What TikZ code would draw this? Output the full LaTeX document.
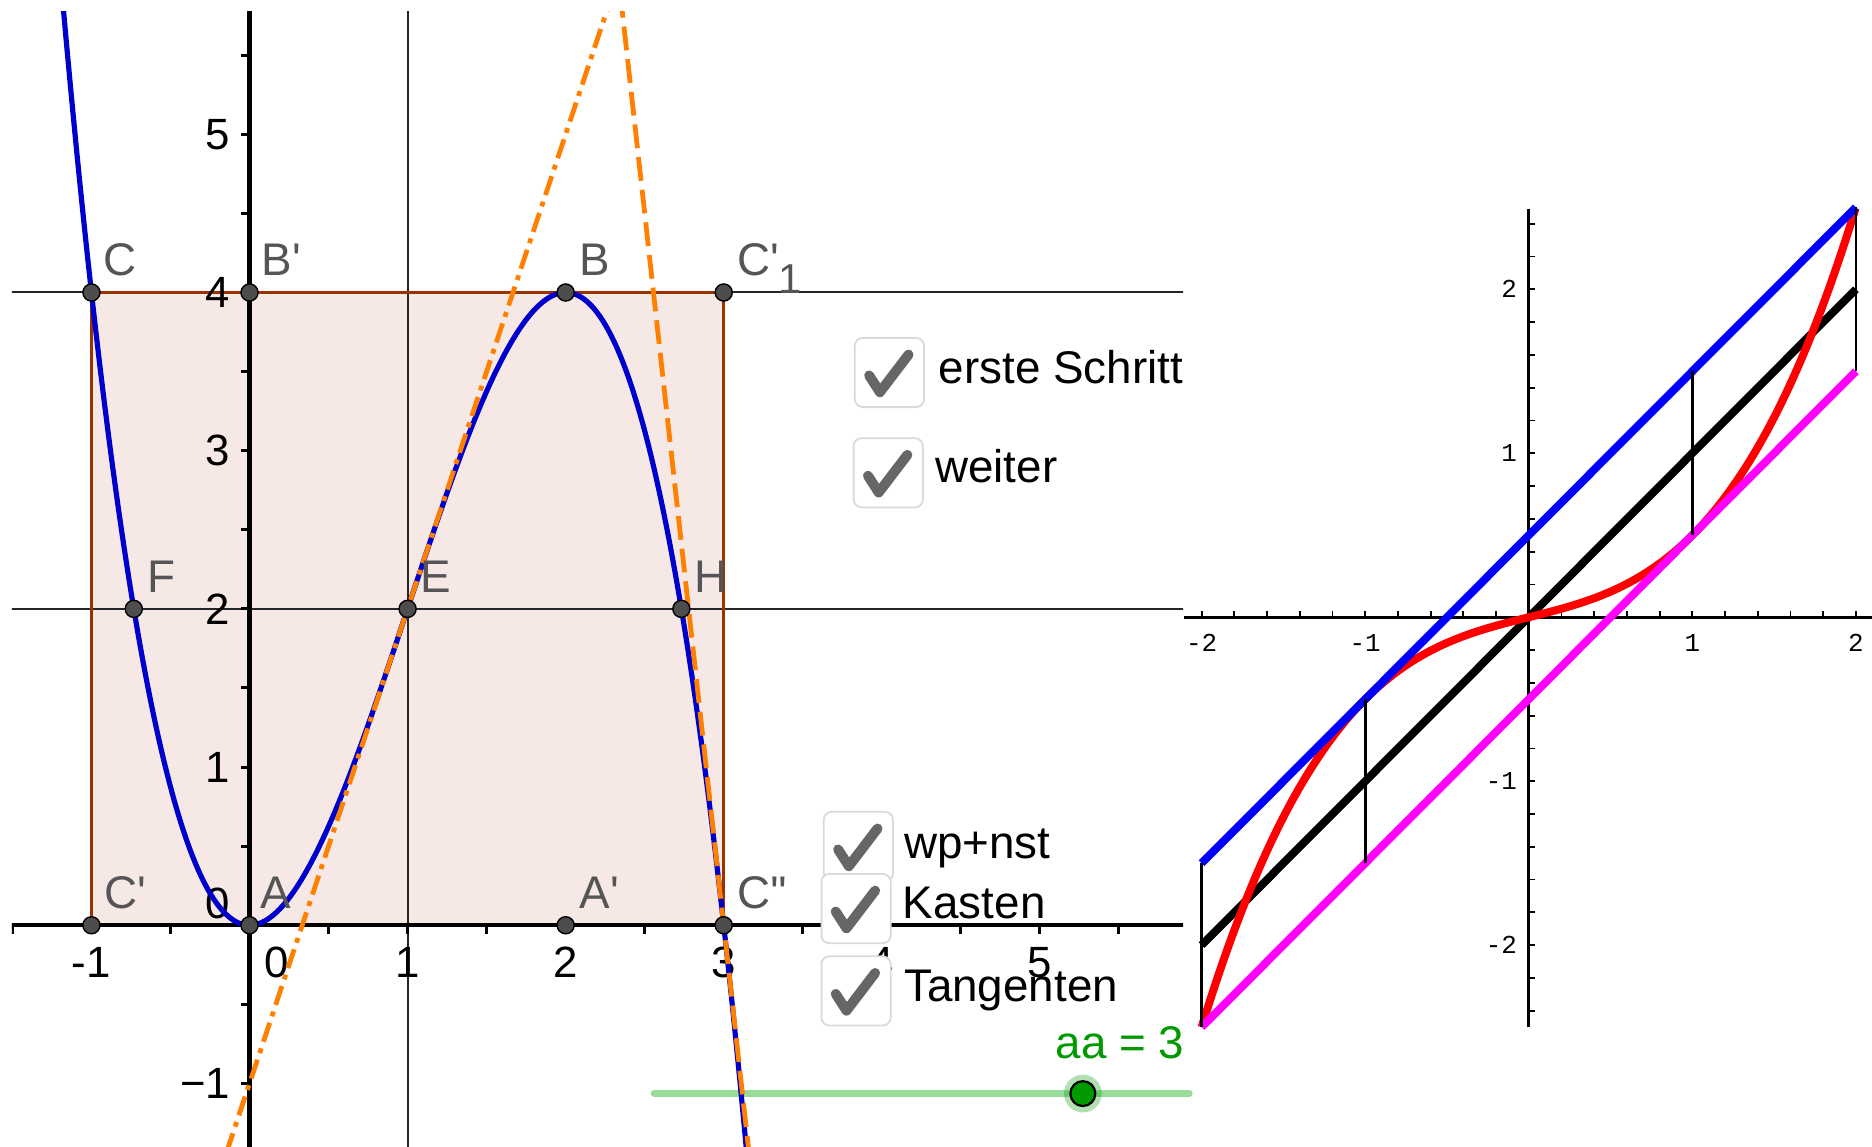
\documentclass[tikz,border=0pt]{standalone}
\usepackage{fontspec}
\newfontfamily\gfont{Liberation Sans}
\newfontfamily\mfont{Liberation Mono}
\definecolor{ggblue}{RGB}{0,0,205}
\definecolor{ggorange}{RGB}{255,127,0}
\definecolor{ggbrown}{RGB}{153,51,0}
\definecolor{ggfill}{RGB}{245,232,229}
\definecolor{gglabel}{RGB}{85,85,85}
\definecolor{ggpoint}{RGB}{77,77,77}
\definecolor{gggreen}{RGB}{0,153,0}
\definecolor{ggslider}{RGB}{153,219,153}
\definecolor{ggcheck}{RGB}{102,102,102}
\definecolor{ggbox}{RGB}{218,218,218}
\definecolor{mmblue}{RGB}{0,0,255}
\definecolor{mmred}{RGB}{255,0,0}
\definecolor{mmmag}{RGB}{255,0,255}
\begin{document}
\begin{tikzpicture}[x=0.6pt,y=-0.6pt,font=\gfont,
  thinline/.style={draw=black!85,line width=1pt},
  brownline/.style={draw=ggbrown,line width=1.4pt},
  axisL/.style={draw=black,line width=2.2pt},
  tickL/.style={draw=black,line width=1.5pt},
  fcurve/.style={draw=ggblue,line width=2.6pt},
  tanE/.style={draw=ggorange,line width=2.4pt,dash pattern=on 10pt off 3.5pt on 2.5pt off 3.5pt},
  tanC/.style={draw=ggorange,line width=2.4pt,dash pattern=on 12pt off 4.5pt},
  ggpt/.style={circle,fill=ggpoint,draw=black,line width=0.7pt,minimum size=8.6pt,inner sep=0pt},
  ptlab/.style={text=gglabel,anchor=base west,inner sep=0pt,font=\gfont\fontsize{23}{26}\selectfont},
  axlab/.style={inner sep=0pt,font=\gfont\fontsize{22}{24}\selectfont},
  cbox/.style={draw=ggbox,fill=white,rounded corners=4pt,minimum size=34.8pt,inner sep=0pt,line width=0.9pt},
  chk/.style={draw=ggcheck,line width=5pt,line cap=round,line join=round},
  cbtext/.style={anchor=base west,inner sep=0pt,font=\gfont\fontsize{23}{26}\selectfont},
  raxis/.style={draw=black,line width=1.3pt},
  rtick/.style={draw=black,line width=0.9pt},
  rlab/.style={inner sep=0pt,font=\mfont\fontsize{13}{14}\selectfont},
  rcurve/.style={line width=4pt},
  rbar/.style={draw=black,line width=1.3pt}]
\useasboundingbox (0,0) rectangle (1568,960);
\fill[white] (0,0) rectangle (1568,960);

% slider track (under the plot)
\draw[ggslider,line width=3.6pt,line cap=round] (548,916) -- (996,916);

% ================= left panel =================
\begin{scope}
\clip (10,10) rectangle (991,960);
\begin{scope}[shift={(125.4pt,-465pt)},x=79.44pt,y=79.5pt]
  \coordinate (C) at (-1,4);
  \coordinate (Bp) at (0,4);
  \coordinate (B) at (2,4);
  \coordinate (C1p) at (3,4);
  \coordinate (F) at (-0.7320508,2);
  \coordinate (E) at (1,2);
  \coordinate (H) at (2.7320508,2);
  \coordinate (Cp) at (-1,0);
  \coordinate (A) at (0,0);
  \coordinate (Ap) at (2,0);
  \coordinate (Cpp) at (3,0);

  \fill[ggfill] (Cp) rectangle (C1p);
  \draw[thinline] (-1.6,4) -- (6,4);
  \draw[thinline] (-1.6,2) -- (6,2);
  \draw[thinline] (1,-1.5) -- (1,6);
  \draw[brownline] (Cp) -- (Cpp) -- (C1p) -- (C) -- cycle;

  % axes
  \draw[axisL] (-1.6,0) -- (6,0);
  \draw[axisL] (0,-1.5) -- (0,6);
  \foreach \t in {-1.5,-1,...,5.6} \draw[tickL] (\t,0) -- (\t,-0.055);
  \foreach \t in {-1,-0.5,...,5.6} \draw[tickL] (0,\t) -- (-0.055,\t);

  % axis labels
  \node[axlab] at (-1,-0.234) {-1};
  \node[axlab] at (0.174,-0.234) {0};
  \foreach \v in {1,2,3,4,5} \node[axlab] at (\v,-0.234) {\v};
  \foreach \v in {1,2,3,4,5} \node[axlab,anchor=east] at (-0.121,\v) {\v};
  \node[axlab,anchor=east] at (-0.121,0.136) {0};
  \node[axlab,anchor=east] at (-0.121,-1) {−1};

  % function and tangents
  \draw[fcurve] plot[domain=-1.26:3.17,samples=160,smooth] (\x,{-(\x)^3+3*(\x)^2});
  \draw[tanE] (-0.3,-1.9) -- (2.35,6.05);
  \draw[tanC] (2.3,6.3) -- (3.17,-1.53);

  % points
  \foreach \p in {C,Bp,B,C1p,F,E,H,Cp,A,Ap,Cpp} \node[ggpt] (pt\p) at (\p) {};

  % point labels
  \node[ptlab] at ([xshift=6pt,yshift=8.4pt]C) {C};
  \node[ptlab] at ([xshift=6pt,yshift=8.4pt]Bp) {B'};
  \node[ptlab] at ([xshift=7pt,yshift=8.4pt]B) {B};
  \node[ptlab] at ([xshift=6.5pt,yshift=8.4pt]C1p) {C'\raisebox{-9pt}{\fontsize{21}{22}\selectfont 1}};
  \node[ptlab] at ([xshift=6.5pt,yshift=8.4pt]F) {F};
  \node[ptlab] at ([xshift=6.5pt,yshift=8.4pt]E) {E};
  \node[ptlab] at ([xshift=6.5pt,yshift=8.4pt]H) {H};
  \node[ptlab] at ([xshift=6.5pt,yshift=8.4pt]Cp) {C'};
  \node[ptlab] at ([xshift=5.5pt,yshift=8.4pt]A) {A};
  \node[ptlab] at ([xshift=7pt,yshift=8.4pt]Ap) {A'};
  \node[ptlab] at ([xshift=6.5pt,yshift=8.4pt]Cpp) {C''};
\end{scope}

% check boxes
\node[cbox] (cb1) at (745,312) {};
\node[cbox] (cb2) at (744,396) {};
\node[cbox] (cb3) at (719,709) {};
\node[cbox] (cb4) at (717,761) {};
\node[cbox] (cb5) at (717,830) {};
\foreach \b in {cb1,cb2,cb3,cb4,cb5}
  \draw[chk] ([shift={(-17,2.5)}]\b.center) -- ([shift={(-8,16.5)}]\b.center) -- ([shift={(16,-15)}]\b.center);
\node[cbtext] (t1) at (786,321) {erste Schritt};
\node[cbtext] (t2) at (783,404) {weiter};
\node[cbtext] (t3) at (757,719) {wp+nst};
\node[cbtext] (t4) at (756,769) {Kasten};
\node[cbtext] (t5) at (757,839) {Tangenten};
\end{scope}

% slider knob and label
\node[circle,fill=gggreen,fill opacity=0.3,minimum size=19pt,inner sep=0pt] (halo) at (907,916) {};
\node[circle,fill=gggreen,draw=black,line width=1.1pt,minimum size=12.5pt,inner sep=0pt] (knob) at (907,916) {};
\node[cbtext,text=gggreen] (aa) at (884,887) {aa = 3};

% ================= right panel =================
\begin{scope}[shift={(768.3pt,-310.2pt)},x=82.2pt,y=82.4pt]
  \draw[raxis] (-2.107,0) -- (2.1,0);
  \draw[raxis] (0,-2.5) -- (0,2.49);
  \foreach \k in {-10,...,10} \draw[rtick] (\k*0.2,0) -- (\k*0.2,0.036);
  \foreach \k in {-12,...,12} \draw[rtick] (0,\k*0.2) -- (0.036,\k*0.2);
  \node[rlab] at (-2,-0.155) {-2};
  \node[rlab] at (-1,-0.155) {-1};
  \node[rlab] at (1,-0.155) {1};
  \node[rlab] at (2,-0.155) {2};
  \node[rlab,anchor=east] at (-0.07,2) {2};
  \node[rlab,anchor=east] at (-0.07,1) {1};
  \node[rlab,anchor=east] at (-0.07,-1) {-1};
  \node[rlab,anchor=east] at (-0.07,-2) {-2};

  \draw[rcurve,black] (-2,-2) -- (2,2);
  \draw[rcurve,mmred] plot[domain=-2:2,samples=120,smooth] (\x,{(\x*\x*\x+\x)/4});
  \draw[rcurve,mmblue] (-2,-1.5) -- (2,2.5);
  \draw[rcurve,mmmag] (-2,-2.5) -- (2,1.5);

  \draw[rbar] (-2,-2.5) -- (-2,-1.5);
  \draw[rbar] (-1,-1.5) -- (-1,-0.5);
  \draw[rbar] (1,0.5) -- (1,1.5);
  \draw[rbar] (2,1.5) -- (2,2.5);
\end{scope}
\end{tikzpicture}
\end{document}
